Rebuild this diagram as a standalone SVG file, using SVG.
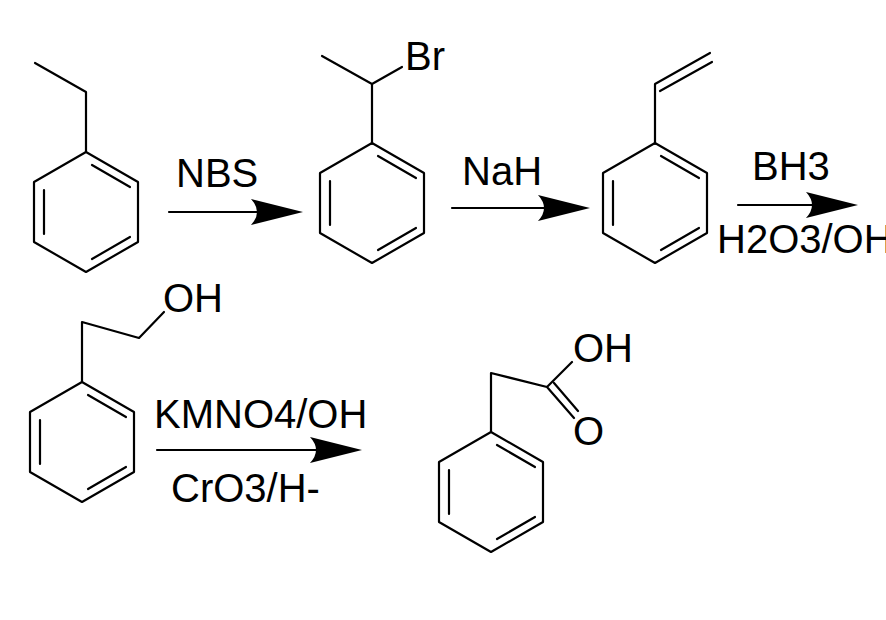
<svg xmlns="http://www.w3.org/2000/svg" width="886" height="620" viewBox="0 0 886 620">
<style>
.b{fill:none;stroke:#000;stroke-width:2.2;stroke-linecap:round;stroke-linejoin:round}
text{font-family:"Liberation Sans",Arial,sans-serif;font-size:40px;fill:#000}
</style>
<defs>
<path id="ah" d="M0,0 L-52,-13 Q-40,0 -52,13 Z" fill="#000"/>
<g id="bz">
<path class="b" d="M0,-60 L52,-30 L52,30 L0,60 L-52,30 L-52,-30 Z"/>
<path class="b" d="M6,-47 L44,-25 M44,25 L6,47 M-42,-22 L-42,22"/>
</g>
</defs>
<rect width="886" height="620" fill="#fff"/>
<g id="m1">
<use href="#bz" x="86" y="212"/>
<path class="b" d="M86,152 L86,92 L35,63"/>
</g>
<g id="m2">
<use href="#bz" x="372" y="203"/>
<path class="b" d="M372,144 L372,84 L322,56 M372,84 L402,67"/>
<text x="405" y="70">Br</text>
</g>
<g id="m3">
<use href="#bz" x="655" y="203"/>
<path class="b" d="M655,144 L655,84 L710,53 M660,91 L712,62"/>
</g>
<g id="m4">
<use href="#bz" x="82" y="442"/>
<path class="b" d="M82,382 L82,322 L139,338 L164,312"/>
<text x="163" y="312">OH</text>
</g>
<g id="m5">
<use href="#bz" x="491" y="492"/>
<path class="b" d="M491,432 L491,373 L547,387 L572,362 M547,387 L574,418 M554,383 L578,411"/>
<text x="573" y="362">OH</text>
<text x="573" y="445">O</text>
</g>
<g id="connectors">
<line class="b" x1="169" y1="212" x2="260" y2="212"/><use href="#ah" x="303" y="212"/>
<line class="b" x1="452" y1="208" x2="545" y2="208"/><use href="#ah" x="590" y="208"/>
<line class="b" x1="738" y1="205" x2="815" y2="205"/><use href="#ah" x="858" y="205"/>
<line class="b" x1="157" y1="450" x2="320" y2="450"/><use href="#ah" x="362" y="450"/>
</g>
<g id="labels">
<text x="176" y="187">NBS</text>
<text x="462" y="185">NaH</text>
<text x="752" y="180">BH3</text>
<text x="717" y="253">H2O3/OH</text>
<text x="154" y="428">KMNO4/OH</text>
<text x="171" y="502">CrO3/H-</text>
</g>
</svg>
